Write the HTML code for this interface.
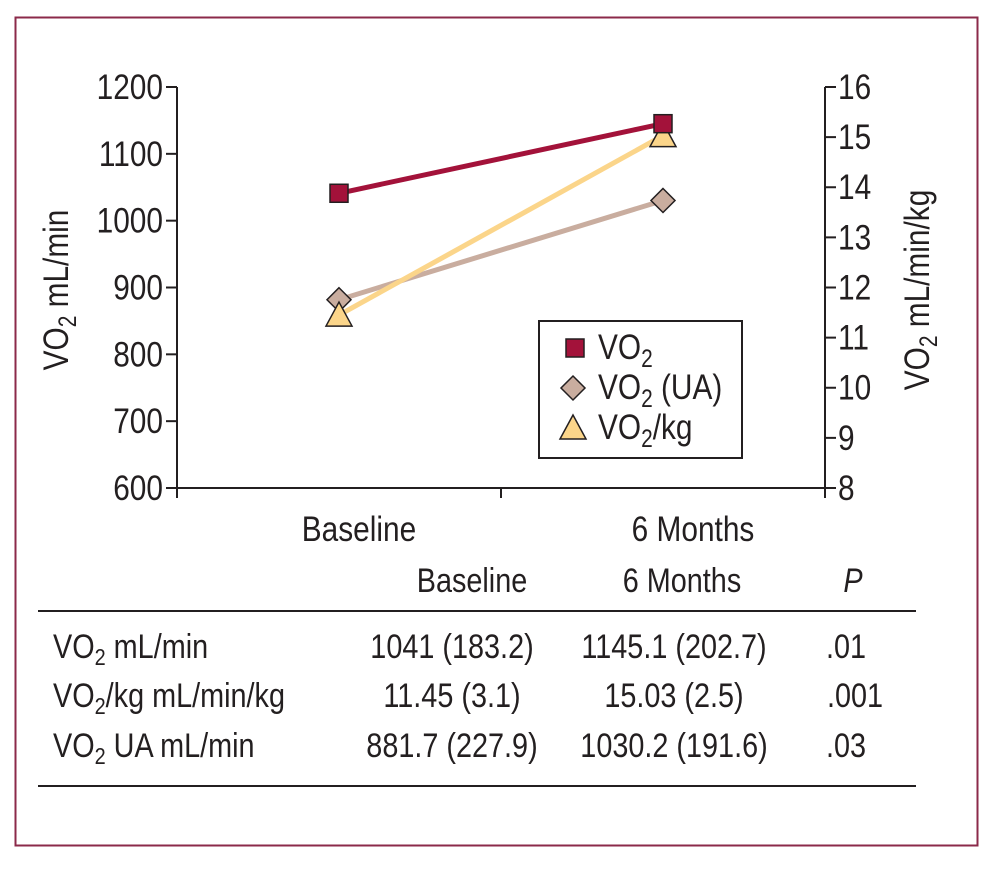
<!DOCTYPE html>
<html><head><meta charset="utf-8"><style>
body{margin:0;background:#fff;}
svg text{font-family:"Liberation Sans Narrow","Liberation Sans",sans-serif;fill:#231f20;}
</style></head><body>
<svg id="svg" width="995" height="870" viewBox="0 0 995 870">
<rect x="15.5" y="17.5" width="962" height="828" fill="none" stroke="#8b2a4a" stroke-width="2"/>
<g id="chart"></g>
<g id="table">
<text x="472" y="592" font-size="29" text-anchor="middle">Baseline</text>
<text x="682" y="592" font-size="29" text-anchor="middle">6 Months</text>
<text x="853" y="592" font-size="29" font-style="italic" text-anchor="middle">P</text>
<line x1="38" y1="611" x2="916" y2="611" stroke="#231f20" stroke-width="2"/>
<line x1="38" y1="786" x2="916" y2="786" stroke="#231f20" stroke-width="2"/>
<g>
<text x="53" y="658" font-size="29">VO<tspan font-size="20" dy="6">2</tspan><tspan dy="-6"> mL/min</tspan></text>
<text x="452" y="658" font-size="29" text-anchor="middle">1041 (183.2)</text>
<text x="674" y="658" font-size="29" text-anchor="middle">1145.1 (202.7)</text>
<text x="846" y="658" font-size="29" text-anchor="middle">.01</text></g>
<g>
<text x="53" y="707" font-size="29">VO<tspan font-size="20" dy="6">2</tspan><tspan dy="-6">/kg mL/min/kg</tspan></text>
<text x="452" y="707" font-size="29" text-anchor="middle">11.45 (3.1)</text>
<text x="674" y="707" font-size="29" text-anchor="middle">15.03 (2.5)</text>
<text x="855" y="707" font-size="29" text-anchor="middle">.001</text></g>
<g>
<text x="53" y="757" font-size="29">VO<tspan font-size="20" dy="6">2</tspan><tspan dy="-6"> UA mL/min</tspan></text>
<text x="452" y="757" font-size="29" text-anchor="middle">881.7 (227.9)</text>
<text x="674" y="757" font-size="29" text-anchor="middle">1030.2 (191.6)</text>
<text x="846" y="757" font-size="29" text-anchor="middle">.03</text></g>
</g>
</svg>
<script>
const categories=["Baseline","6 Months"];
const vo2=[1041,1145.1];
const vo2UA=[881.7,1030.2];
const vo2kg=[11.45,15.03];
const leftTicks=[600,700,800,900,1000,1100,1200];
const rightTicks=[8,9,10,11,12,13,14,15,16];
const NS="http://www.w3.org/2000/svg";
const g=document.getElementById('chart');
const L=177,R=825,T=87,B=488;
const yL=v=>B-(v-600)/600*(B-T);
const yR=v=>B-(v-8)/8*(B-T);
const xC=i=>L+(i+0.5)*(R-L)/categories.length;
function mk(tag,a,parent){const e=document.createElementNS(NS,tag);for(const k in a)e.setAttribute(k,a[k]);(parent||g).appendChild(e);return e;}
let e=mk('path',{d:`M${L} ${T}V${B}H${R}M${R} ${T}V${B+10}M${L} ${B}V${B+10}`,fill:'none',stroke:'#231f20','stroke-width':2});


e=mk('line',{x1:(L+R)/2,y1:B,x2:(L+R)/2,y2:B+10,stroke:'#231f20','stroke-width':2});


leftTicks.forEach(v=>{const y=yL(v);
 let t=mk('line',{x1:L-11,y1:y,x2:L,y2:y,stroke:'#231f20','stroke-width':2});
 
 
 let tx=mk('text',{x:L-14,y:y+12,'font-size':30,'text-anchor':'end'});tx.textContent=v;
 
 
});
rightTicks.forEach(v=>{const y=yR(v);
 let t=mk('line',{x1:R,y1:y,x2:R+11,y2:y,stroke:'#231f20','stroke-width':2});
 
 
 let tx=mk('text',{x:R+13,y:y+12,'font-size':30});tx.textContent=v;
 
 
});
categories.forEach((c,i)=>{let tx=mk('text',{x:xC(i)+(i?30:20),y:541,'font-size':30,'text-anchor':'middle'});tx.textContent=c;
 
 
});
let yt=mk('text',{transform:'translate(68 290) rotate(-90)','font-size':30,'text-anchor':'middle'});
yt.innerHTML='VO<tspan font-size="21" dy="7">2</tspan><tspan dy="-7"> mL/min</tspan>';


let yt2=mk('text',{transform:'translate(929 290) rotate(-90)','font-size':30,'text-anchor':'middle'});
yt2.innerHTML='VO<tspan font-size="21" dy="7">2</tspan><tspan dy="-7"> mL/min/kg</tspan>';


function line(vals,fy,col,name){let p=mk('polyline',{points:vals.map((v,i)=>xC(i)+','+fy(v)).join(' '),fill:'none',stroke:col,'stroke-width':5});
 
 }
line(vo2UA,yL,'#c9ad9f','line-vo2-ua');
line(vo2kg,yR,'#fbd58a','line-vo2-kg');
line(vo2,yL,'#a3123a','line-vo2');
function sq(x,y,n){let m=mk('rect',{x:x-9,y:y-9,width:18,height:18,fill:'#a3123a',stroke:'#231f20','stroke-width':1.5});}
function dia(x,y,n){let m=mk('path',{d:`M${x} ${y-12}L${x+12} ${y}L${x} ${y+12}L${x-12} ${y}Z`,fill:'#c9ad9f',stroke:'#231f20','stroke-width':1.5});}
function tri(x,y,n){let m=mk('path',{d:`M${x} ${y-13}L${x+13} ${y+11}L${x-13} ${y+11}Z`,fill:'#fbd58a',stroke:'#231f20','stroke-width':1.5});}
vo2UA.forEach((v,i)=>dia(xC(i),yL(v),'point-vo2-ua'));
vo2kg.forEach((v,i)=>tri(xC(i),yR(v),'point-vo2-kg'));
vo2.forEach((v,i)=>sq(xC(i),yL(v),'point-vo2'));
let lb=mk('rect',{x:539,y:321,width:203,height:137,fill:'#fff',stroke:'#231f20','stroke-width':2});


sq(575,348,'legend-marker-vo2');dia(573,388,'legend-marker-vo2-ua');tri(573,428,'legend-marker-vo2-kg');
const legTxt=['VO<tspan font-size="21" dy="7">2</tspan>','VO<tspan font-size="21" dy="7">2</tspan><tspan dy="-7"> (UA)</tspan>','VO<tspan font-size="21" dy="7">2</tspan><tspan dy="-7">/kg</tspan>'];
const legNames=['legend-entry-vo2','legend-entry-vo2-ua','legend-entry-vo2-kg'];
legTxt.forEach((s,i)=>{let t=mk('text',{x:598,y:359+i*40,'font-size':30});t.innerHTML=s;
 
 });
// condense all text: taller glyphs, narrower width
const K=1.17,S=0.85;
document.querySelectorAll('#svg text').forEach(t=>{
 t.setAttribute('font-size',(parseFloat(t.getAttribute('font-size'))*K).toFixed(1));
 t.querySelectorAll('tspan').forEach(sp=>{
  if(sp.getAttribute('font-size'))sp.setAttribute('font-size',(parseFloat(sp.getAttribute('font-size'))*K).toFixed(1));
  if(sp.getAttribute('dy'))sp.setAttribute('dy',(parseFloat(sp.getAttribute('dy'))*K).toFixed(1));
 });
 const tr=t.getAttribute('transform');
 if(tr){t.setAttribute('transform',tr+` scale(${S} 1)`);}
 else{const x=+t.getAttribute('x'),y=+t.getAttribute('y');
  t.setAttribute('transform',`translate(${x} ${y}) scale(${S} 1) translate(${-x} ${-y})`);}
});
</script>
</body></html>
